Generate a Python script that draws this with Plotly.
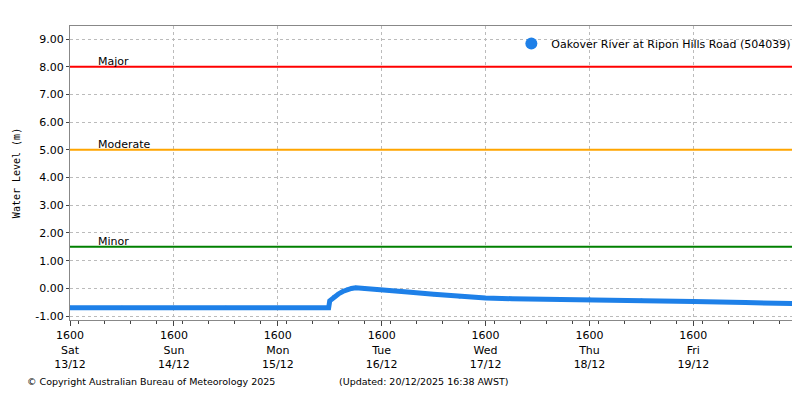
import plotly.graph_objects as go

# river level readings (AWST)
times = ["2025-12-13 16:00", "2025-12-14 04:00", "2025-12-14 16:00", "2025-12-15 04:00",
         "2025-12-15 16:00", "2025-12-16 03:45", "2025-12-16 04:00", "2025-12-16 05:00",
         "2025-12-16 06:00", "2025-12-16 07:00", "2025-12-16 08:00", "2025-12-16 09:00",
         "2025-12-16 10:00", "2025-12-16 12:00", "2025-12-16 16:00", "2025-12-16 22:00",
         "2025-12-17 04:00", "2025-12-17 10:00", "2025-12-17 16:00", "2025-12-17 22:00",
         "2025-12-18 04:00", "2025-12-18 16:00", "2025-12-19 04:00", "2025-12-19 16:00",
         "2025-12-20 04:00", "2025-12-20 16:38"]
levels = [-0.70, -0.70, -0.70, -0.70, -0.70, -0.70, -0.45, -0.30, -0.20, -0.11, -0.04, 0.00,
          0.02, 0.00, -0.06, -0.13, -0.21, -0.29, -0.35, -0.37, -0.38, -0.40, -0.44, -0.47,
          -0.51, -0.55]

flood_names = ["Major", "Moderate", "Minor"]
flood_levels = [8.0, 5.0, 1.5]
flood_colours = ["#ff0000", "#ffa500", "#008000"]

day_ticks = ["2025-12-13 16:00", "2025-12-14 16:00", "2025-12-15 16:00", "2025-12-16 16:00",
             "2025-12-17 16:00", "2025-12-18 16:00", "2025-12-19 16:00"]
day_labels = ["1600<br>Sat<br>13/12", "1600<br>Sun<br>14/12", "1600<br>Mon<br>15/12",
              "1600<br>Tue<br>16/12", "1600<br>Wed<br>17/12", "1600<br>Thu<br>18/12",
              "1600<br>Fri<br>19/12"]
y_ticks = [-1, 0, 1, 2, 3, 4, 5, 6, 7, 8, 9]
y_labels = ["-1.00", "0.00", "1.00", "2.00", "3.00", "4.00", "5.00", "6.00", "7.00", "8.00", "9.00"]

blue = "#1e80e8"
fig = go.Figure()
fig.add_trace(go.Scatter(x=times, y=levels, mode="lines", line=dict(color=blue, width=5),
                         showlegend=False, hoverinfo="skip"))
fig.add_trace(go.Scatter(x=times, y=levels, mode="markers", marker=dict(color=blue, size=4),
                         name="Oakover River at Ripon Hills Road (504039)"))

for n, lv, c in zip(flood_names, flood_levels, flood_colours):
    fig.add_hline(y=lv, line=dict(color=c, width=2))
    fig.add_annotation(x=0.035, xref="paper", y=lv, text=n, showarrow=False,
                       xanchor="left", yanchor="bottom", yshift=-3, font=dict(size=11))

fig.add_annotation(x=17, xref="pixel" if False else "paper", y=-0.235, yref="paper",
                   text="© Copyright Australian Bureau of Meteorology 2025",
                   showarrow=False, xanchor="left", font=dict(size=9.5))
fig.add_annotation(x=0.366, xref="paper", y=-0.235, yref="paper", text="(Updated: 20/12/2025 16:38 AWST)",
                   showarrow=False, xanchor="left", font=dict(size=9.5))
fig.layout.annotations[-2].x = -0.062

fig.update_layout(
    width=800, height=400,
    margin=dict(l=62, r=8, t=18, b=88, autoexpand=False),
    plot_bgcolor="white", paper_bgcolor="white",
    font=dict(family="DejaVu Sans", size=11, color="black"),
    legend=dict(x=0.995, y=0.99, xanchor="right", yanchor="top", bgcolor="rgba(0,0,0,0)",
                itemsizing="constant", font=dict(size=11)),
    showlegend=True,
)
fig.update_xaxes(range=["2025-12-13 16:00", "2025-12-20 16:38"], tickvals=day_ticks, ticktext=day_labels,
                 showgrid=True, gridcolor="#bbbbbb", griddash="dot", ticks="outside", ticklen=5,
                 minor=dict(dtick=6 * 3600000, ticks="outside", ticklen=3, showgrid=False),
                 showline=True, linecolor="#888888", mirror=True, automargin=False,
                 tickfont=dict(size=11))
fig.update_yaxes(range=[-1.14, 9.47], tickvals=y_ticks, ticktext=y_labels,
                 title=dict(text="Water Level (m)", font=dict(family="DejaVu Sans Mono", size=10), standoff=12),
                 showgrid=True, gridcolor="#bbbbbb", griddash="dot", ticks="outside", ticklen=3,
                 zeroline=False, showline=True, linecolor="#888888", mirror=True, automargin=False,
                 tickfont=dict(size=11))

fig.write_html("out.html")
